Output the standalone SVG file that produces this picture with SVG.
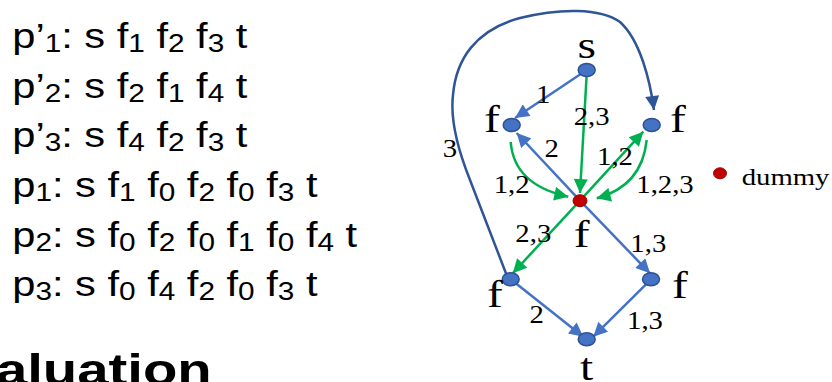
<svg xmlns="http://www.w3.org/2000/svg" width="832" height="382" viewBox="0 0 832 382">
<style>
.body{font-family:"Liberation Sans",Arial,sans-serif;font-size:35px;fill:#000}
.sub{font-size:25px}
.head{font-family:"Liberation Sans",Arial,sans-serif;font-size:44px;font-weight:bold;fill:#000}
.nl{font-family:"Liberation Serif","Times New Roman",serif;font-size:38px;fill:#000;text-anchor:middle}
.el{font-family:"Liberation Serif","Times New Roman",serif;font-size:25px;fill:#000;text-anchor:middle}
.lg{font-family:"Liberation Serif","Times New Roman",serif;font-size:23px;fill:#000}
.node{fill:#4472C4;stroke:#2F528F;stroke-width:1.5}
.dummy{fill:#C00000;stroke:#A00000;stroke-width:1}
.eb{fill:none;stroke:#4472C4;stroke-width:2.5}
.ed{fill:none;stroke:#2F5597;stroke-width:2.5}
.eg{fill:none;stroke:#00B050;stroke-width:2.5}
</style>
<defs>
<marker id="ab" viewBox="0 0 10 10" refX="10" refY="5" markerWidth="15" markerHeight="14" markerUnits="userSpaceOnUse" orient="auto"><path d="M0,0 L10,5 L0,10 z" fill="#4472C4"/></marker>
<marker id="ad" viewBox="0 0 10 10" refX="10" refY="5" markerWidth="15" markerHeight="14" markerUnits="userSpaceOnUse" orient="auto"><path d="M0,0 L10,5 L0,10 z" fill="#2F5597"/></marker>
<marker id="ag" viewBox="0 0 10 10" refX="10" refY="5" markerWidth="15" markerHeight="14" markerUnits="userSpaceOnUse" orient="auto"><path d="M0,0 L10,5 L0,10 z" fill="#00B050"/></marker>
</defs>

<g id="paths-text" transform="scale(1.19,1)">
<text class="body" x="10.3" y="48">p’<tspan class="sub" dy="4">1</tspan><tspan dy="-4">: s f</tspan><tspan class="sub" dy="4">1</tspan><tspan dy="-4"> f</tspan><tspan class="sub" dy="4">2</tspan><tspan dy="-4"> f</tspan><tspan class="sub" dy="4">3</tspan><tspan dy="-4"> t</tspan></text>
<text class="body" x="10.3" y="97.7">p’<tspan class="sub" dy="4">2</tspan><tspan dy="-4">: s f</tspan><tspan class="sub" dy="4">2</tspan><tspan dy="-4"> f</tspan><tspan class="sub" dy="4">1</tspan><tspan dy="-4"> f</tspan><tspan class="sub" dy="4">4</tspan><tspan dy="-4"> t</tspan></text>
<text class="body" x="10.3" y="147.3">p’<tspan class="sub" dy="4">3</tspan><tspan dy="-4">: s f</tspan><tspan class="sub" dy="4">4</tspan><tspan dy="-4"> f</tspan><tspan class="sub" dy="4">2</tspan><tspan dy="-4"> f</tspan><tspan class="sub" dy="4">3</tspan><tspan dy="-4"> t</tspan></text>
<text class="body" x="10.3" y="197">p<tspan class="sub" dy="4">1</tspan><tspan dy="-4">: s f</tspan><tspan class="sub" dy="4">1</tspan><tspan dy="-4"> f</tspan><tspan class="sub" dy="4">0</tspan><tspan dy="-4"> f</tspan><tspan class="sub" dy="4">2</tspan><tspan dy="-4"> f</tspan><tspan class="sub" dy="4">0</tspan><tspan dy="-4"> f</tspan><tspan class="sub" dy="4">3</tspan><tspan dy="-4"> t</tspan></text>
<text class="body" x="10.3" y="246.7">p<tspan class="sub" dy="4">2</tspan><tspan dy="-4">: s f</tspan><tspan class="sub" dy="4">0</tspan><tspan dy="-4"> f</tspan><tspan class="sub" dy="4">2</tspan><tspan dy="-4"> f</tspan><tspan class="sub" dy="4">0</tspan><tspan dy="-4"> f</tspan><tspan class="sub" dy="4">1</tspan><tspan dy="-4"> f</tspan><tspan class="sub" dy="4">0</tspan><tspan dy="-4"> f</tspan><tspan class="sub" dy="4">4</tspan><tspan dy="-4"> t</tspan></text>
<text class="body" x="10.3" y="296.3">p<tspan class="sub" dy="4">3</tspan><tspan dy="-4">: s f</tspan><tspan class="sub" dy="4">0</tspan><tspan dy="-4"> f</tspan><tspan class="sub" dy="4">4</tspan><tspan dy="-4"> f</tspan><tspan class="sub" dy="4">2</tspan><tspan dy="-4"> f</tspan><tspan class="sub" dy="4">0</tspan><tspan dy="-4"> f</tspan><tspan class="sub" dy="4">3</tspan><tspan dy="-4"> t</tspan></text>
</g>
<g id="heading" transform="scale(1.28,1)">
<text class="head" x="-57" y="385">Evaluation</text>
</g>

<g id="connectors">
<path class="ed" d="M507,276 L470,180 C458,150 450,120 453,95 C456,60 475,30 520,18 C560,8 600,8 620,22 C640,40 650,80 654,110" marker-end="url(#ad)"/>
<path class="eb" d="M586.7,70 L515,118" marker-end="url(#ab)"/>
<path class="eg" d="M586.7,74 L580,193" marker-end="url(#ag)"/>
<path class="eb" d="M580,200.7 L516.7,133" marker-end="url(#ab)"/>
<path class="eg" d="M510.7,142 Q514,185 568.3,196.7" marker-end="url(#ag)"/>
<path class="eg" d="M580,200.7 L643.3,131.7" marker-end="url(#ag)"/>
<path class="eg" d="M646.7,140 Q642,186 596.7,198.3" marker-end="url(#ag)"/>
<path class="eg" d="M580,200.7 L512.7,273.3" marker-end="url(#ag)"/>
<path class="eb" d="M580,200.7 L650,273.3" marker-end="url(#ab)"/>
<path class="eb" d="M510.7,279.3 L583.3,336.7" marker-end="url(#ab)"/>
<path class="eb" d="M651,279.3 L593.3,336.7" marker-end="url(#ab)"/>
</g>

<g id="edge-labels">
<text class="el" transform="translate(543.3,103) scale(1.15,1)">1</text>
<text class="el" transform="translate(591.7,125) scale(1.15,1)">2,3</text>
<text class="el" transform="translate(450,157) scale(1.15,1)">3</text>
<text class="el" transform="translate(551.7,157) scale(1.15,1)">2</text>
<text class="el" transform="translate(615,165) scale(1.15,1)">1,2</text>
<text class="el" transform="translate(511.7,193) scale(1.15,1)">1,2</text>
<text class="el" transform="translate(665,193) scale(1.15,1)">1,2,3</text>
<text class="el" transform="translate(533.3,241.7) scale(1.15,1)">2,3</text>
<text class="el" transform="translate(648.3,251.7) scale(1.15,1)">1,3</text>
<text class="el" transform="translate(536.7,322.7) scale(1.15,1)">2</text>
<text class="el" transform="translate(645,329) scale(1.15,1)">1,3</text>
</g>

<g id="node-s"><ellipse class="node" cx="586.7" cy="70" rx="8.5" ry="6.5"/><text class="nl" transform="translate(586.7,58) scale(1.25,1)">s</text></g>
<g id="node-f1"><ellipse class="node" cx="511.7" cy="125" rx="8.5" ry="6.5"/><text class="nl" transform="translate(492,132) scale(1.25,1)">f</text></g>
<g id="node-f2"><ellipse class="node" cx="651.7" cy="125" rx="8.5" ry="6.5"/><text class="nl" transform="translate(678,132) scale(1.25,1)">f</text></g>
<g id="node-f0"><ellipse class="dummy" cx="580" cy="200.7" rx="7" ry="6"/><text class="nl" transform="translate(581.7,246.7) scale(1.25,1)">f</text></g>
<g id="node-f3"><ellipse class="node" cx="510.7" cy="279.3" rx="8.5" ry="6.5"/><text class="nl" transform="translate(495,306.7) scale(1.25,1)">f</text></g>
<g id="node-f4"><ellipse class="node" cx="651" cy="279.3" rx="8.5" ry="6.5"/><text class="nl" transform="translate(680,298) scale(1.25,1)">f</text></g>
<g id="node-t"><ellipse class="node" cx="586.7" cy="339.3" rx="8.5" ry="6.5"/><text class="nl" transform="translate(586.7,380) scale(1.25,1)">t</text></g>
<g id="legend"><ellipse class="dummy" cx="720" cy="173.3" rx="6.5" ry="5.5"/><text class="lg" transform="translate(741.7,185) scale(1.25,1)">dummy</text></g>
</svg>
